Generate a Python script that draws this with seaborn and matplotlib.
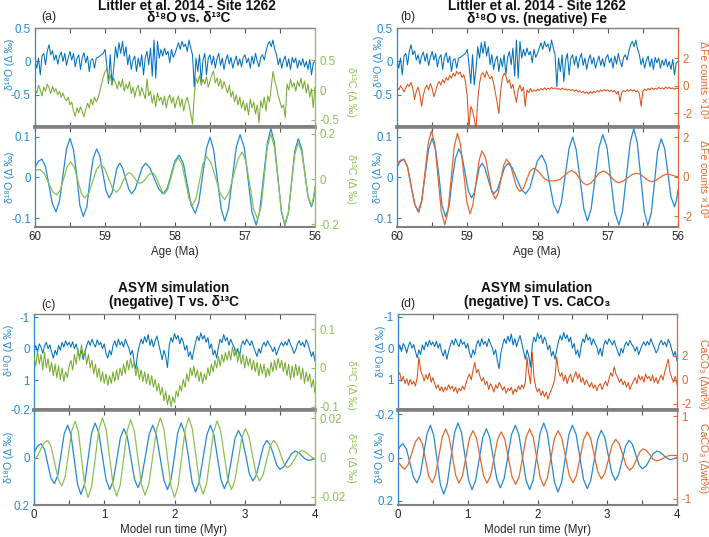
"""
=====================================================
Site 1262 vs ASYM simulation
d18O against d13C / Fe / CaCO3, raw and filtered
=====================================================
"""

import numpy as np
import matplotlib
matplotlib.use("Agg")
import matplotlib.pyplot as plt
import seaborn as sns

# ---------------------------------------------------
# Data : Littler et al. 2014 - Site 1262 (raw, 60 -> 56 Ma)
# ---------------------------------------------------

o18_1262 = [
    0.02, -0.10, 0.05, -0.20, 0.08, 0.12, -0.05, 0.15, 0.25, 0.10,
    0.16, 0.02, 0.10, -0.04, 0.08, 0.14, 0.00, 0.12, -0.06, 0.06,
    0.15, 0.02, 0.12, -0.08, 0.05, 0.10, -0.12, 0.06, 0.13, -0.02,
    0.08, -0.15, 0.02, 0.04, -0.10, 0.05, 0.06, 0.08, 0.10, 0.12,
    0.18, -0.05, -0.33, 0.10, -0.35, -0.10, 0.22, 0.05, 0.28, 0.12,
    0.30, 0.08, 0.22, -0.05, 0.10, -0.12, 0.02, 0.08, -0.15, 0.05,
    -0.08, 0.10, -0.20, 0.06, 0.15, -0.05, 0.20, -0.22, 0.32, -0.25,
    0.30, 0.05, 0.18, 0.08, 0.20, 0.10, 0.15, -0.02, 0.18, 0.06,
    0.12, 0.20, 0.28, 0.18, 0.30, 0.22, 0.26, 0.15, 0.32, 0.20,
    0.10, -0.38, 0.05, -0.15, 0.10, -0.30, 0.02, 0.12, -0.20, 0.05,
    0.10, -0.05, 0.08, -0.10, 0.04, 0.12, -0.06, 0.05, -0.12, 0.02,
    0.10, -0.04, 0.06, -0.10, 0.00, 0.08, -0.06, 0.04, -0.08, 0.06,
    0.10, -0.02, 0.05, -0.10, 0.08, -0.04, 0.12, 0.00, -0.08, 0.06,
    0.10, 0.02, 0.15, 0.25, 0.30, 0.22, 0.32, 0.18, 0.10, -0.05,
    0.05, -0.10, 0.02, 0.08, -0.08, 0.04, -0.12, 0.06, -0.02, 0.05,
    -0.10, 0.02, -0.06, 0.04, -0.08, 0.00, -0.12, 0.03, -0.20, -0.02,
    0.00,
]

c13_1262 = [
    0.03, -0.05, 0.08, 0.00, -0.10, 0.05, -0.02, 0.10, 0.04, -0.06,
    0.06, -0.03, 0.02, -0.08, -0.02, -0.12, -0.05, -0.14, -0.18, -0.12,
    -0.25, -0.20, -0.35, -0.44, -0.30, -0.38, -0.28, -0.36, -0.45, -0.32,
    -0.22, -0.30, -0.15, -0.25, -0.12, -0.20, -0.14, -0.02, 0.10, 0.22,
    0.30, 0.36, 0.15, 0.25, 0.08, 0.20, 0.12, 0.02, 0.15, 0.05,
    0.18, -0.02, 0.10, 0.02, 0.14, -0.06, 0.05, -0.12, 0.02, 0.08,
    -0.10, 0.04, -0.05, -0.15, 0.18, -0.10, -0.02, -0.22, -0.08, -0.28,
    -0.05, -0.18, -0.12, -0.25, -0.10, -0.30, -0.15, -0.08, -0.22, -0.12,
    -0.30, -0.18, -0.10, -0.28, -0.15, -0.35, -0.20, -0.12, -0.25, -0.40,
    -0.57, -0.10, 0.20, 0.12, 0.24, 0.08, 0.18, 0.10, 0.22, 0.05,
    0.15, 0.25, 0.32, 0.12, 0.20, 0.06, 0.18, 0.02, 0.14, 0.05,
    -0.05, 0.08, -0.12, -0.02, -0.20, -0.08, -0.25, -0.12, -0.30, -0.18,
    -0.35, -0.22, -0.42, -0.15, -0.30, -0.20, -0.40, -0.25, -0.55, -0.18,
    -0.30, -0.12, -0.35, -0.10, -0.20, 0.05, 0.31, 0.15, 0.05, -0.10,
    -0.20, -0.30, -0.25, -0.46, 0.10, 0.00, 0.18, 0.05, 0.12, -0.02,
    0.15, 0.06, 0.20, 0.02, 0.15, -0.05, 0.10, -0.12, 0.02, -0.30,
    0.05,
]

fe_1262 = [
    -0.10, -0.30, 0.00, -0.20, -0.45, -0.15, 0.10, -0.05, 0.25, -0.20,
    -1.00, -0.40, -0.10, -0.60, -1.50, -0.70, -0.20, 0.05, -0.30, 0.15,
    -0.20, -0.80, -0.40, 0.10, 0.30, 0.05, 0.45, 0.20, 0.60, 0.40,
    0.75, 0.55, 0.90, 0.70, 1.05, 0.85, 1.00, 0.60, 0.80, 0.30,
    -0.80, -3.10, -1.50, -1.80, -2.40, -3.20, -1.00, 0.20, 0.80, 0.95,
    0.60, 1.05, 0.75, 0.50, 0.70, 0.20, -0.50, -1.20, -2.00, -0.40,
    0.60, 0.90, 0.70, 0.20, 0.45, -0.20, 0.10, -0.60, -1.20, -0.30,
    0.05, -0.40, -0.10, -1.50, -0.30, -0.50, -0.20, -0.45, -0.30, -0.40,
    -0.25, -0.35, -0.20, -0.30, -0.15, -0.28, -0.18, -0.25, -0.12, -0.22,
    -0.15, -0.25, -0.20, -0.30, -0.18, -0.28, -0.22, -0.32, -0.25, -0.35,
    -0.28, -0.40, -0.30, -0.45, -0.35, -0.50, -0.40, -0.55, -0.45, -0.60,
    -0.42, -0.55, -0.40, -0.50, -0.35, -0.45, -0.30, -0.40, -0.28, -0.38,
    -0.30, -0.42, -0.32, -0.45, -0.35, -0.60, -0.40, -1.15, -0.45, -0.35,
    -0.42, -0.30, -0.40, -0.28, -0.38, -0.30, -0.45, -0.35, -0.60, -1.50,
    -0.40, -0.25, -0.35, -0.20, -0.30, -0.15, -0.28, -0.18, -0.25, -0.12,
    -0.22, -0.15, -0.25, -0.10, -0.20, -0.12, -0.22, -0.15, -0.25, -0.18,
    -0.20,
]

# ---------------------------------------------------
# Data : Site 1262 filtered (age, value)
# ---------------------------------------------------

age_o18_filt = [
    60.0, 59.95, 59.90,
    59.85, 59.80, 59.75, 59.70,
    59.65, 59.60, 59.55, 59.50,
    59.45, 59.40, 59.36, 59.31,
    59.26, 59.22, 59.17, 59.12,
    59.075, 59.03, 58.985, 58.94,
    58.90, 58.865, 58.83, 58.79,
    58.75, 58.705, 58.66, 58.62,
    58.57, 58.52, 58.47, 58.42,
    58.36, 58.295, 58.23, 58.17,
    58.11, 58.055, 58.00, 57.94,
    57.88, 57.825, 57.77, 57.71,
    57.66, 57.605, 57.55, 57.50,
    57.45, 57.395, 57.34, 57.29,
    57.235, 57.18, 57.125, 57.07,
    57.01, 56.955, 56.90, 56.84,
    56.79, 56.735, 56.68, 56.63,
    56.58, 56.53, 56.48, 56.43,
    56.38, 56.335, 56.29, 56.24,
    56.19, 56.145, 56.10, 56.05,
    56.025, 56.0,
]
o18_1262_filt = [
    0.025, 0.040, 0.045,
    0.026, -0.020, -0.065, -0.084,
    -0.058, 0.006, 0.070, 0.096,
    0.068, 0.000, -0.068, -0.096,
    -0.072, -0.013, 0.046, 0.070,
    0.053, 0.010, -0.033, -0.050,
    -0.038, -0.008, 0.023, 0.035,
    0.024, -0.003, -0.029, -0.040,
    -0.029, -0.003, 0.024, 0.035,
    0.024, -0.003, -0.029, -0.040,
    -0.026, 0.008, 0.041, 0.055,
    0.034, -0.017, -0.067, -0.088,
    -0.061, 0.006, 0.072, 0.099,
    0.069, -0.004, -0.077, -0.107,
    -0.076, -0.001, 0.074, 0.105,
    0.073, -0.006, -0.085, -0.117,
    -0.083, 0.002, 0.086, 0.120,
    0.086, 0.001, -0.084, -0.118,
    -0.087, -0.012, 0.064, 0.095,
    0.071, 0.012, -0.048, -0.072,
    -0.058, -0.030,
]

age_c13_filt = [
    60.0, 59.965, 59.93,
    59.87, 59.81, 59.75, 59.69,
    59.64, 59.59, 59.54, 59.49,
    59.44, 59.39, 59.34, 59.29,
    59.23, 59.175, 59.12, 59.06,
    59.005, 58.95, 58.895, 58.84,
    58.795, 58.75, 58.705, 58.66,
    58.62, 58.58, 58.54, 58.50,
    58.455, 58.41, 58.365, 58.32,
    58.28, 58.235, 58.19, 58.15,
    58.10, 58.05, 58.00, 57.95,
    57.90, 57.85, 57.80, 57.75,
    57.70, 57.65, 57.60, 57.55,
    57.485, 57.42, 57.355, 57.29,
    57.23, 57.165, 57.10, 57.04,
    56.985, 56.93, 56.875, 56.82,
    56.77, 56.725, 56.68, 56.63,
    56.58, 56.53, 56.48, 56.43,
    56.38, 56.335, 56.29, 56.24,
    56.19, 56.145, 56.10, 56.05,
    56.025, 56.0,
]
c13_1262_filt = [
    0.035, 0.041, 0.042,
    0.026, -0.014, -0.054, -0.070,
    -0.049, 0.003, 0.055, 0.076,
    0.053, -0.004, -0.060, -0.083,
    -0.062, -0.009, 0.044, 0.065,
    0.047, 0.004, -0.040, -0.058,
    -0.045, -0.015, 0.016, 0.029,
    0.022, 0.005, -0.012, -0.019,
    -0.012, 0.005, 0.022, 0.029,
    0.015, -0.018, -0.051, -0.065,
    -0.042, 0.015, 0.071, 0.094,
    0.064, -0.011, -0.086, -0.116,
    -0.085, -0.008, 0.069, 0.100,
    0.072, 0.005, -0.063, -0.091,
    -0.060, 0.015, 0.089, 0.120,
    0.077, -0.029, -0.134, -0.177,
    -0.122, 0.011, 0.144, 0.199,
    0.141, 0.001, -0.140, -0.198,
    -0.146, -0.019, 0.108, 0.160,
    0.120, 0.022, -0.076, -0.116,
    -0.085, -0.030,
]

age_fe_filt = [
    60.0, 59.95, 59.905,
    59.85, 59.80, 59.745, 59.69,
    59.645, 59.60, 59.555, 59.51,
    59.46, 59.415, 59.37, 59.32,
    59.275, 59.23, 59.185, 59.14,
    59.095, 59.05, 59.005, 58.96,
    58.92, 58.875, 58.83, 58.79,
    58.74, 58.695, 58.65, 58.60,
    58.56, 58.52, 58.48, 58.44,
    58.39, 58.345, 58.30, 58.25,
    58.20, 58.155, 58.11, 58.06,
    58.005, 57.95, 57.895, 57.84,
    57.75, 57.68, 57.62, 57.56, 57.51,
    57.46, 57.405, 57.35, 57.30,
    57.24, 57.18, 57.12, 57.06,
    57.01, 56.955, 56.90, 56.85,
    56.785, 56.72, 56.655, 56.59,
    56.535, 56.48, 56.425, 56.37,
    56.32, 56.265, 56.21, 56.16,
    56.10, 56.05, 56.0,
]
fe_1262_filt = [
    0.69, 0.85, 0.90,
    0.51, -0.45, -1.40, -1.79,
    -1.19, 0.27, 1.73, 2.33,
    1.64, -0.05, -1.74, -2.43,
    -1.76, -0.11, 1.54, 2.21,
    1.62, 0.17, -1.28, -1.87,
    -1.41, -0.28, 0.86, 1.32,
    0.97, 0.11, -0.76, -1.11,
    -0.82, -0.11, 0.61, 0.90,
    0.66, 0.08, -0.50, -0.74,
    -0.57, -0.15, 0.27, 0.44,
    0.35, 0.12, -0.11, -0.20,
    -0.20, -0.12, 0.05, 0.25, 0.32,
    0.21, -0.05, -0.30, -0.41,
    -0.31, -0.06, 0.20, 0.30,
    0.21, 0.01, -0.20, -0.29,
    -0.22, -0.05, 0.12, 0.19,
    0.13, -0.03, -0.18, -0.24,
    -0.18, -0.05, 0.08, 0.14,
    0.11, 0.05, 0.0,
]

# ---------------------------------------------------
# Data : ASYM simulation (raw, 0 -> 4 Myr)
# ---------------------------------------------------

o18_asym = [
    0.05, -0.10, 0.10, -0.15, -0.05, 0.15, -0.08, -0.20, 0.00, -0.12, 0.10,
    0.30, 0.05, 0.20, -0.10, 0.05, -0.20, -0.05, -0.25, -0.10, -0.20,
    -0.05, -0.22, 0.00, -0.15, 0.10, 0.25, 0.05, 0.35, 0.10, -0.10,
    -0.25, -0.10, -0.30, -0.15, -0.05, -0.28, -0.12, -0.20, 0.00, -0.15,
    0.15, 0.30, 0.05, 0.20, -0.10, -0.25, -0.05, -0.30, -0.12, -0.22,
    -0.05, -0.30, -0.15, -0.02, 0.20, 0.05, 0.40, 0.65, 0.15, -0.10,
    -0.30, -0.15, -0.38, -0.20, -0.45, -0.10, -0.30, -0.05, -0.25, -0.40,
    -0.15, 0.10, 0.35, 0.05, 0.25, 0.60, -0.10, -0.35, -0.20, -0.48,
    -0.30, -0.42, -0.15, -0.35, -0.20, 0.05, -0.10, 0.25, 0.10, 0.35,
    0.05, -0.20, -0.40, -0.25, -0.50, -0.30, -0.42, -0.20, -0.35, 0.00,
    -0.15, 0.20, 0.05, 0.30, -0.05, -0.30, -0.18, -0.45, -0.25, -0.35,
    -0.10, -0.30, -0.15, -0.05, 0.20, 0.00, 0.25, -0.10, -0.25, -0.12,
    -0.30, -0.20, -0.10, -0.25, -0.05, 0.10, 0.25, 0.00, 0.15, -0.10,
    -0.20, -0.08, -0.25, -0.12, -0.05, 0.10, -0.05, 0.20, 0.05, -0.10,
    -0.20, -0.08, -0.22, -0.10, -0.30, -0.15, -0.02, 0.15, 0.05, -0.15,
    -0.25, -0.10, -0.20, -0.05, -0.28, -0.15, 0.05, 0.25, 0.10, 0.40,
]

c13_asym = [
    0.030, 0.005, 0.045, 0.010, 0.035, -0.005, 0.040, 0.000, 0.025, -0.010, 0.015,
    -0.020, 0.010, -0.025, 0.005, -0.030, 0.000, -0.035, -0.010, -0.025, 0.005,
    0.020, -0.005, 0.035, 0.010, 0.050, 0.020, 0.060, 0.030, 0.045, 0.010,
    0.035, 0.000, 0.020, -0.015, 0.010, -0.025, 0.000, -0.035, -0.010, -0.040,
    -0.015, -0.045, -0.020, -0.040, -0.010, -0.035, -0.005, -0.030, 0.000, -0.020,
    0.010, -0.015, 0.020, -0.005, 0.025, 0.000, 0.015, -0.020, 0.005, -0.030,
    -0.005, -0.035, -0.010, -0.040, -0.015, -0.045, -0.020, -0.050, -0.030, -0.060,
    -0.040, -0.070, -0.050, -0.085, -0.060, -0.095, -0.070, -0.100, -0.075, -0.090,
    -0.060, -0.075, -0.045, -0.060, -0.030, -0.050, -0.015, -0.035, 0.000, -0.020,
    0.005, -0.025, -0.005, -0.035, -0.010, -0.040, -0.015, -0.030, 0.000, -0.020,
    0.010, -0.010, 0.020, 0.000, 0.030, 0.005, 0.035, 0.015, 0.040, 0.020,
    0.045, 0.020, 0.055, 0.030, 0.050, 0.015, 0.040, 0.010, 0.035, 0.000,
    0.030, 0.005, 0.025, -0.005, 0.020, -0.010, 0.015, -0.020, 0.010, -0.015,
    0.010, -0.025, 0.000, -0.020, 0.015, -0.010, 0.020, -0.005, 0.025, 0.000,
    0.020, -0.010, 0.015, -0.020, 0.010, -0.030, 0.005, -0.025, 0.010, -0.020,
    0.005, -0.030, 0.000, -0.040, -0.010, -0.035, -0.015, -0.050, -0.030, -0.065,
]

caco3_asym = [
    0.40, 0.60, -0.10, 0.30, -0.30, 0.10, -0.45, 0.05, -0.35, -0.10, -0.50,
    0.20, 1.90, 0.80, 0.40, -0.10, 0.45, 0.05, 0.60, -0.20, 0.20,
    -0.30, -0.70, -0.40, -0.90, -0.55, -1.00, -0.60, -0.85, -0.40, -0.75,
    -0.50, -0.95, -0.60, -1.10, -0.70, -0.90, -0.50, -0.80, -0.30, 0.20,
    0.50, 0.00, 0.80, 1.45, 0.60, 0.90, 0.30, -0.10, 0.20, -0.40,
    -0.10, -0.80, -0.30, -0.60, -1.00, -0.40, -0.70, -0.20, -0.50, -0.85,
    -0.55, -1.10, -0.70, -0.90, -0.60, -1.20, -0.75, -1.00, -0.50, -0.80,
    -0.40, -0.70, -0.20, 1.90, 0.50, -0.30, 2.30, 0.20, -0.60, -1.00,
    -0.70, -1.30, -0.90, -1.40, -1.00, -1.60, -1.10, -0.80, -0.40, 0.20,
    1.90, 0.80, 0.30, 0.60, -0.10, 0.40, -0.30, 0.20, 0.50, -0.20,
    0.30, 0.70, 0.10, 0.50, -0.20, 0.20, -0.40, 0.00, -0.30, -0.60,
    -0.20, -0.70, -0.40, -0.90, -0.50, -0.30, -0.80, -0.40, -0.10, -0.50,
    0.10, 0.60, 0.30, 1.10, 0.50, 0.20, -0.20, 0.10, -0.40, -0.10,
    -0.60, -0.20, -0.80, -0.40, -0.10, 0.20, -0.30, 0.40, 0.00, 0.30,
    -0.20, 0.50, 0.10, 0.30, -0.10, 0.40, -0.20, 0.20, -0.30, 0.10,
    0.40, 0.00, 0.70, 1.20, 1.75, 0.60, 0.20, -0.20, 0.30, -0.40,
]

# ---------------------------------------------------
# Data : ASYM simulation filtered (time, value)
# ---------------------------------------------------

t_o18_filt_c = [
    0.0, 0.05, 0.10,
    0.15, 0.195, 0.24, 0.29,
    0.34, 0.385, 0.43, 0.48,
    0.527, 0.574, 0.62, 0.667,
    0.72, 0.77, 0.82, 0.87,
    0.922, 0.974, 1.026, 1.078,
    1.128, 1.179, 1.23, 1.28,
    1.33, 1.38, 1.43, 1.48,
    1.53, 1.585, 1.64, 1.69,
    1.74, 1.795, 1.85, 1.90,
    1.95, 2.00, 2.045, 2.095,
    2.145, 2.20, 2.25, 2.30,
    2.35, 2.405, 2.46, 2.51,
    2.56, 2.61, 2.66, 2.71,
    2.76, 2.81, 2.86, 2.91,
    2.96, 3.015, 3.065, 3.116,
    3.165, 3.215, 3.265, 3.315,
    3.36, 3.41, 3.455, 3.50,
    3.555, 3.61, 3.665, 3.72,
    3.765, 3.81, 3.86, 3.905,
    3.95, 4.0,
]
o18_asym_filt_c = [
    -0.020, -0.048, -0.058,
    -0.034, 0.026, 0.086, 0.110,
    0.074, -0.013, -0.100, -0.136,
    -0.094, 0.010, 0.113, 0.155,
    0.112, 0.005, -0.102, -0.145,
    -0.104, -0.005, 0.094, 0.135,
    0.098, 0.007, -0.084, -0.121,
    -0.085, 0.003, 0.091, 0.127,
    0.089, -0.005, -0.098, -0.136,
    -0.097, 0.000, 0.096, 0.135,
    0.094, -0.005, -0.104, -0.145,
    -0.103, 0.000, 0.103, 0.145,
    0.104, 0.005, -0.095, -0.136,
    -0.097, -0.003, 0.092, 0.131,
    0.096, 0.009, -0.079, -0.114,
    -0.083, -0.008, 0.068, 0.099,
    0.074, 0.014, -0.047, -0.072,
    -0.054, -0.011, 0.032, 0.050,
    0.039, 0.012, -0.016, -0.027,
    -0.021, -0.008, 0.006, 0.012,
    0.010, 0.005,
]

t_c13_filt = [
    0.0, 0.05, 0.10, 0.15, 0.194,
    0.245, 0.295, 0.346, 0.397,
    0.444, 0.4915, 0.539, 0.586,
    0.632, 0.678, 0.724, 0.77,
    0.821, 0.872, 0.923, 0.974,
    1.025, 1.0755, 1.126, 1.177,
    1.227, 1.2765, 1.326, 1.376,
    1.427, 1.478, 1.529, 1.58,
    1.635, 1.69, 1.745, 1.80,
    1.85, 1.90, 1.95, 2.0,
    2.051, 2.1015, 2.152, 2.203,
    2.254, 2.305, 2.356, 2.407,
    2.457, 2.5065, 2.556, 2.606,
    2.657, 2.708, 2.759, 2.81,
    2.859, 2.9085, 2.958, 3.007,
    3.058, 3.1085, 3.159, 3.21,
    3.26, 3.31, 3.36, 3.41,
    3.459, 3.5085, 3.558, 3.607,
    3.658, 3.7085, 3.759, 3.81,
    3.86, 3.91, 3.96, 4.0,
]
c13_asym_filt = [
    -0.0015, 0.0008, 0.0045, 0.0076, 0.0087,
    0.0054, -0.0029, -0.0111, -0.0144,
    -0.0096, 0.0021, 0.0137, 0.0185,
    0.0129, -0.0009, -0.0147, -0.0203,
    -0.0145, -0.0001, 0.0143, 0.0201,
    0.0144, 0.0003, -0.0139, -0.0196,
    -0.0140, -0.0003, 0.0135, 0.0191,
    0.0136, 0.0000, -0.0136, -0.0191,
    -0.0134, 0.0005, 0.0144, 0.0201,
    0.0143, -0.0001, -0.0145, -0.0203,
    -0.0145, -0.0001, 0.0143, 0.0201,
    0.0145, 0.0008, -0.0130, -0.0186,
    -0.0132, -0.0001, 0.0131, 0.0185,
    0.0135, 0.0011, -0.0113, -0.0163,
    -0.0118, -0.0009, 0.0101, 0.0146,
    0.0108, 0.0014, -0.0081, -0.0119,
    -0.0089, -0.0016, 0.0057, 0.0087,
    0.0067, 0.0018, -0.0032, -0.0052,
    -0.0039, -0.0008, 0.0023, 0.0036,
    0.0029, 0.0014, 0.0000, -0.0006,
]

t_o18_filt_d = [
    0.0, 0.036, 0.072,
    0.122, 0.172, 0.222, 0.272,
    0.32, 0.368, 0.416, 0.464,
    0.512, 0.5595, 0.607, 0.655,
    0.706, 0.7575, 0.809, 0.86,
    0.91, 0.9605, 1.011, 1.061,
    1.112, 1.1635, 1.215, 1.266,
    1.316, 1.3665, 1.417, 1.467,
    1.521, 1.5745, 1.628, 1.682,
    1.733, 1.785, 1.836, 1.888,
    1.938, 1.9885, 2.039, 2.089,
    2.14, 2.1915, 2.243, 2.294,
    2.345, 2.3965, 2.448, 2.499,
    2.553, 2.6065, 2.66, 2.714,
    2.764, 2.8145, 2.865, 2.915,
    2.965, 3.015, 3.065, 3.115,
    3.164, 3.2135, 3.263, 3.312,
    3.36, 3.4075, 3.455, 3.503,
    3.555, 3.608, 3.66, 3.713,
    3.761, 3.809, 3.857, 3.905,
    3.95, 4.0,
]
o18_asym_filt_d = [
    -0.033, -0.055, -0.064,
    -0.038, 0.027, 0.092, 0.118,
    0.079, -0.016, -0.110, -0.149,
    -0.103, 0.011, 0.124, 0.170,
    0.122, 0.005, -0.112, -0.160,
    -0.115, -0.006, 0.104, 0.149,
    0.108, 0.008, -0.092, -0.133,
    -0.093, 0.004, 0.100, 0.140,
    0.098, -0.005, -0.107, -0.149,
    -0.106, 0.000, 0.106, 0.149,
    0.104, -0.006, -0.115, -0.160,
    -0.114, 0.000, 0.114, 0.160,
    0.115, 0.006, -0.104, -0.149,
    -0.107, -0.003, 0.102, 0.144,
    0.105, 0.009, -0.087, -0.126,
    -0.092, -0.010, 0.072, 0.106,
    0.079, 0.013, -0.053, -0.080,
    -0.061, -0.014, 0.033, 0.052,
    0.040, 0.011, -0.018, -0.030,
    -0.024, -0.010, 0.004, 0.010,
    0.006, 0.000,
]

t_caco3_filt = [
    0.0, 0.05, 0.096,
    0.147, 0.198, 0.249, 0.30,
    0.35, 0.395, 0.44, 0.49,
    0.538, 0.5865, 0.635, 0.683,
    0.731, 0.779, 0.827, 0.875,
    0.925, 0.975, 1.025, 1.075,
    1.125, 1.1755, 1.226, 1.276,
    1.327, 1.378, 1.429, 1.48,
    1.532, 1.5835, 1.635, 1.687,
    1.737, 1.7875, 1.838, 1.888,
    1.938, 1.9885, 2.039, 2.089,
    2.14, 2.1915, 2.243, 2.294,
    2.348, 2.4015, 2.455, 2.509,
    2.56, 2.6115, 2.663, 2.714,
    2.764, 2.8145, 2.865, 2.915,
    2.966, 3.018, 3.07, 3.121,
    3.171, 3.2215, 3.272, 3.322,
    3.37, 3.4175, 3.465, 3.513,
    3.56, 3.608, 3.655, 3.703,
    3.753, 3.8035, 3.854, 3.904,
    3.95, 4.0,
]
caco3_asym_filt = [
    -0.10, -0.22, -0.28,
    -0.17, 0.11, 0.38, 0.49,
    0.33, -0.06, -0.45, -0.61,
    -0.42, 0.04, 0.50, 0.69,
    0.50, 0.04, -0.43, -0.62,
    -0.44, 0.02, 0.47, 0.65,
    0.47, 0.02, -0.44, -0.62,
    -0.44, 0.00, 0.44, 0.62,
    0.44, -0.02, -0.47, -0.65,
    -0.46, 0.02, 0.50, 0.69,
    0.49, 0.00, -0.49, -0.69,
    -0.50, -0.02, 0.46, 0.65,
    0.47, 0.02, -0.43, -0.61,
    -0.43, 0.01, 0.44, 0.62,
    0.45, 0.05, -0.35, -0.52,
    -0.38, -0.04, 0.30, 0.44,
    0.33, 0.07, -0.20, -0.31,
    -0.23, -0.05, 0.13, 0.21,
    0.17, 0.07, -0.04, -0.08,
    -0.06, -0.02, 0.03, 0.05,
    0.05, 0.05,
]

# ---------------------------------------------------
# Style
# ---------------------------------------------------

sns.set_theme(style="white")
plt.rcParams["font.family"] = ["Liberation Sans", "DejaVu Sans"]
plt.rcParams["axes.unicode_minus"] = False

BLUE = "#0072BD"
BLUE_L = "#2489D6"
GREEN = "#77AC30"
GREEN_L = "#8CC152"
ORANGE = "#D95319"
ORANGE_L = "#E5672F"
GRAY = "#808080"
TXT = "#262626"

TICK = 8.3
LAB = 8.3
YLAB = 7.6
TITLE = 9.8

W, H = 709, 537

fig = plt.figure(figsize=(W / 100, H / 100), dpi=100)


def box(l, t, r, b):
    return [l / W, 1 - b / H, (r - l) / W, (b - t) / H]


def ftext(px, py, s, **kw):
    fig.text(px / W, 1 - py / H, s, **kw)


def draw(ax, x, y, color, lw):
    sns.lineplot(x=x, y=y, ax=ax, color=color, linewidth=lw,
                 sort=False, estimator=None, legend=False)


def style(ax, tw, lcol, rcol, xlim, xticks, lyl, ryl, lt, rt,
          show_x, top_row):
    ax.set_xlim(*xlim)
    ax.set_ylim(*lyl)
    tw.set_ylim(*ryl)
    ax.set_xlabel("")
    ax.set_ylabel("")
    tw.set_ylabel("")

    ax.set_yticks(lt, [f"{v:g}" for v in lt])
    tw.set_yticks(rt, [f"{v:g}" for v in rt])

    ax.set_xticks(xticks,
                  [f"{v:g}" if float(v).is_integer() else "" for v in xticks])

    ax.tick_params(axis="x", direction="in", top=True, bottom=True,
                   length=3.5, width=0.8, color="#555555",
                   labelsize=TICK, labelcolor=TXT, pad=3,
                   labelbottom=show_x)
    ax.tick_params(axis="y", direction="in", left=True, right=False,
                   length=3, width=0.8, color=lcol,
                   labelsize=TICK, labelcolor=lcol, pad=3)
    tw.tick_params(axis="y", direction="in", right=True, left=False,
                   length=3, width=0.8, color=rcol,
                   labelsize=TICK, labelcolor=rcol, pad=3)

    ax.spines["left"].set_color(lcol)
    ax.spines["left"].set_linewidth(0.9)
    ax.spines["right"].set_visible(False)
    for s in ["top", "bottom"]:
        ax.spines[s].set_color(GRAY)
    if top_row:
        ax.spines["top"].set_linewidth(1.0)
        ax.spines["bottom"].set_linewidth(2.6)
    else:
        ax.spines["top"].set_linewidth(2.6)
        ax.spines["bottom"].set_linewidth(1.5)

    for s in ["left", "top", "bottom"]:
        tw.spines[s].set_visible(False)
    tw.spines["right"].set_color(rcol)
    tw.spines["right"].set_linewidth(0.9)
    ax.grid(False)
    tw.grid(False)


def make_pair(l, r, t, m, b):
    top = fig.add_axes(box(l, t, r, m))
    bot = fig.add_axes(box(l, m, r, b))
    return top, top.twinx(), bot, bot.twinx()


age_ticks = np.arange(56, 60.01, 0.5)
time_ticks = np.arange(0, 4.01, 0.5)

# ---------------------------------------------------
# (a) d18O vs d13C
# ---------------------------------------------------

a_t, a_tw, a_b, a_bw = make_pair(35, 315, 28, 127, 226.7)

draw(a_t, np.linspace(60, 56, len(o18_1262)), o18_1262, BLUE, 0.75)
draw(a_tw, np.linspace(60, 56, len(c13_1262)), c13_1262, GREEN, 0.75)
draw(a_b, age_o18_filt, o18_1262_filt, BLUE_L, 0.9)
draw(a_bw, age_c13_filt, c13_1262_filt, GREEN_L, 0.9)

style(a_t, a_tw, BLUE_L, GREEN_L, (60, 56), age_ticks,
      (-0.98, 0.5), (-0.62, 1.04), [-0.5, 0, 0.5], [-0.5, 0, 0.5],
      False, True)
style(a_b, a_bw, BLUE_L, GREEN_L, (60, 56), age_ticks,
      (-0.121, 0.124), (-0.21, 0.23), [-0.1, 0, 0.1], [-0.2, 0, 0.2],
      True, False)

# ---------------------------------------------------
# (b) d18O vs (negative) Fe
# ---------------------------------------------------

b_t, b_tw, b_b, b_bw = make_pair(397, 678, 28, 127, 226.7)

draw(b_t, np.linspace(60, 56, len(o18_1262)), o18_1262, BLUE, 0.75)
draw(b_tw, np.linspace(60, 56, len(fe_1262)), fe_1262, ORANGE, 0.75)
draw(b_b, age_o18_filt, o18_1262_filt, BLUE_L, 0.9)
draw(b_bw, age_fe_filt, fe_1262_filt, ORANGE_L, 0.9)

style(b_t, b_tw, BLUE_L, ORANGE_L, (60, 56), age_ticks,
      (-0.98, 0.5), (-3.0, 4.2), [-0.5, 0, 0.5], [-2, 0, 2],
      False, True)
style(b_b, b_bw, BLUE_L, ORANGE_L, (60, 56), age_ticks,
      (-0.121, 0.124), (-2.52, 2.53), [-0.1, 0, 0.1], [-2, 0, 2],
      True, False)

# ---------------------------------------------------
# (c) (negative) T vs d13C
# ---------------------------------------------------

c_t, c_tw, c_b, c_bw = make_pair(34, 315, 314, 410, 505)

draw(c_t, np.linspace(0, 4, len(o18_asym)), o18_asym, BLUE, 0.75)
draw(c_tw, np.linspace(0, 4, len(c13_asym)), c13_asym, GREEN, 0.75)
draw(c_b, t_o18_filt_c, o18_asym_filt_c, BLUE_L, 0.9)
draw(c_bw, t_c13_filt, c13_asym_filt, GREEN_L, 0.9)

style(c_t, c_tw, BLUE_L, GREEN_L, (0, 4), time_ticks,
      (1.95, -1.1), (-0.109, 0.14), [-1, 0, 1], [-0.1, 0, 0.1],
      False, True)
style(c_b, c_bw, BLUE_L, GREEN_L, (0, 4), time_ticks,
      (0.2, -0.2), (-0.0241, 0.0241), [-0.2, 0, 0.2], [-0.02, 0, 0.02],
      True, False)

# ---------------------------------------------------
# (d) (negative) T vs CaCO3
# ---------------------------------------------------

d_t, d_tw, d_b, d_bw = make_pair(398, 677, 314, 410, 505)

draw(d_t, np.linspace(0, 4, len(o18_asym)), o18_asym, BLUE, 0.75)
draw(d_tw, np.linspace(0, 4, len(caco3_asym)), caco3_asym, ORANGE, 0.75)
draw(d_b, t_o18_filt_d, o18_asym_filt_d, BLUE_L, 0.9)
draw(d_bw, t_caco3_filt, caco3_asym_filt, ORANGE_L, 0.9)

style(d_t, d_tw, BLUE_L, ORANGE_L, (0, 4), time_ticks,
      (1.95, -1.08), (-2.5, 5.5), [-1, 0, 1], [-2, 0, 2],
      False, True)
style(d_b, d_bw, BLUE_L, ORANGE_L, (0, 4), time_ticks,
      (0.22, -0.22), (-1.15, 1.15), [-0.2, 0, 0.2], [-1, 0, 1],
      True, False)

# ---------------------------------------------------
# Titles, panel letters, axis labels
# ---------------------------------------------------

tkw = dict(ha="center", va="center", fontsize=TITLE,
           fontweight="bold", color="#111111")
ftext(187, 5.5, "Littler et al. 2014 - Site 1262", **tkw)
ftext(189, 18.5, "δ¹⁸O vs. δ¹³C", **tkw)
ftext(537, 5.5, "Littler et al. 2014 - Site 1262", **tkw)
ftext(537, 18.5, "δ¹⁸O vs. (negative) Fe", **tkw)
ftext(174, 288.5, "ASYM simulation", **tkw)
ftext(174, 302, "(negative) T vs. δ¹³C", **tkw)
ftext(537, 288.5, "ASYM simulation", **tkw)
ftext(537, 302, "(negative) T vs. CaCO₃", **tkw)

pkw = dict(ha="left", va="center", fontsize=8.8, color=TXT)
ftext(41, 17, "(a)", **pkw)
ftext(400, 17, "(b)", **pkw)
ftext(41, 305, "(c)", **pkw)
ftext(400, 304, "(d)", **pkw)

xkw = dict(ha="center", va="center", fontsize=LAB, color=TXT)
ftext(175, 252, "Age (Ma)", **xkw)
ftext(537, 252, "Age (Ma)", **xkw)
ftext(174, 530, "Model run time (Myr)", **xkw)
ftext(537, 530, "Model run time (Myr)", **xkw)

O18 = "δ¹⁸O (Δ ‰)"
C13 = "δ¹³C (Δ ‰)"
FE = "ΔFe counts ×10³"
CA = "CaCO₃ (Δwt%)"

lkw = dict(ha="center", va="center", fontsize=YLAB, rotation=90)
rkw = dict(ha="center", va="center", fontsize=YLAB, rotation=270)

ftext(10, 64, O18, color=BLUE_L, **lkw)
ftext(10, 177, O18, color=BLUE_L, **lkw)
ftext(351, 92, C13, color=GREEN_L, **rkw)
ftext(351, 179, C13, color=GREEN_L, **rkw)

ftext(379, 61, O18, color=BLUE_L, **lkw)
ftext(378, 177, O18, color=BLUE_L, **lkw)
ftext(703, 80, FE, color=ORANGE_L, **rkw)
ftext(703, 179, FE, color=ORANGE_L, **rkw)

ftext(9, 350, O18, color=BLUE_L, **lkw)
ftext(9, 457, O18, color=BLUE_L, **lkw)
ftext(351, 385, C13, color=GREEN_L, **rkw)
ftext(351, 458, C13, color=GREEN_L, **rkw)

ftext(381, 351, O18, color=BLUE_L, **lkw)
ftext(380, 457, O18, color=BLUE_L, **lkw)
ftext(703, 374, CA, color=ORANGE_L, **rkw)
ftext(703, 458, CA, color=ORANGE_L, **rkw)

plt.savefig("out.png", dpi=100)
plt.close()

print("✓ out.png saved")
